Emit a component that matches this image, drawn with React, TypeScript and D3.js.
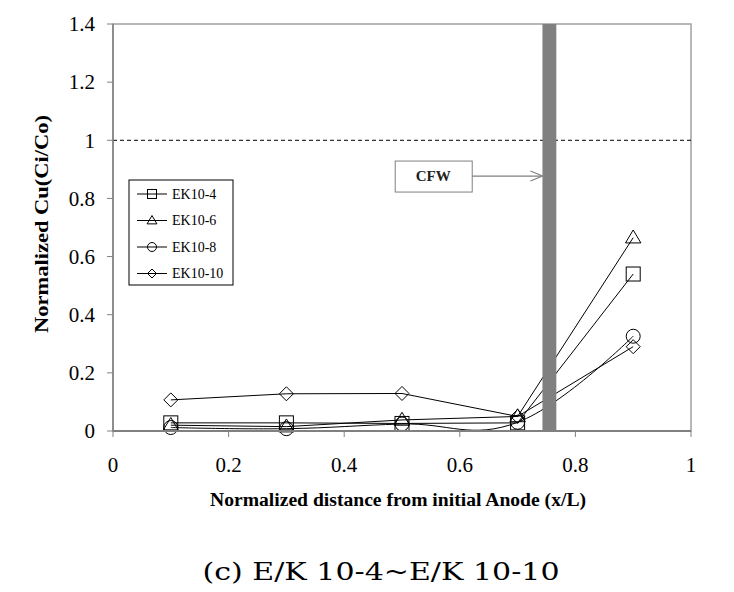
import React from "react";
import * as d3 from "d3";

const xValues = [0.1, 0.3, 0.5, 0.7, 0.9];
const seriesNames = ["EK10-4", "EK10-6", "EK10-8", "EK10-10"];
const ek10_4 = [0.028, 0.028, 0.026, 0.028, 0.54];
const ek10_6 = [0.02, 0.015, 0.038, 0.05, 0.665];
const ek10_8 = [0.012, 0.008, 0.024, 0.03, 0.326];
const ek10_10 = [0.107, 0.128, 0.129, 0.05, 0.29];
const markerTypes = ["square", "triangle", "circle", "diamond"];
const smoothFlags = [false, false, true, false];
const xTicks = [0, 0.2, 0.4, 0.6, 0.8, 1];
const yTicks = [0, 0.2, 0.4, 0.6, 0.8, 1, 1.2, 1.4];
const cfwPosition = 0.755;
const cfwHalfWidth = 0.012;
const referenceLevel = 1;

const W = 734;
const H = 592;
const x = d3.scaleLinear().domain([0, 1]).range([113, 691]);
const y = d3.scaleLinear().domain([0, 1.4]).range([431, 24]);

function Marker({ type, cx, cy, s }: { type: string; cx: number; cy: number; s: number }) {
  const h = s / 2;
  const common = { fill: "none", stroke: "#000", strokeWidth: 1 };
  if (type === "square") return <rect x={cx - h} y={cy - h} width={s} height={s} {...common} />;
  if (type === "circle") return <circle cx={cx} cy={cy} r={h} {...common} />;
  if (type === "triangle")
    return <path d={`M${cx},${cy - h * 1.1} L${cx + h * 1.1},${cy + h * 0.75} L${cx - h * 1.1},${cy + h * 0.75} Z`} {...common} />;
  return <path d={`M${cx},${cy - h} L${cx + h},${cy} L${cx},${cy + h} L${cx - h},${cy} Z`} {...common} />;
}

export default function App() {
  const allSeries = [ek10_4, ek10_6, ek10_8, ek10_10];
  const straight = d3.line<number>().x((_, i) => x(xValues[i])).y((d) => y(d));
  const smooth = d3
    .line<number>()
    .x((_, i) => x(xValues[i]))
    .y((d) => y(d))
    .curve(d3.curveCardinal.tension(-0.2));
  const serif = "'Liberation Serif', 'Times New Roman', serif";
  const gray = "#808080";
  const legendX = 129;
  const legendY = 180;
  const cfwBoxCx = x(0.554);
  const cfwBoxCy = y(0.877);
  return (
    <svg width={W} height={H} style={{ position: "absolute", left: 0, top: 0, background: "#fff" }}>
      <rect x={0} y={0} width={W} height={H} fill="#fff" />
      {/* plot border */}
      <rect x={x(0)} y={y(1.4)} width={x(1) - x(0)} height={y(0) - y(1.4)} fill="none" stroke="#a0a0a0" strokeWidth={1.5} />
      {/* dashed reference line */}
      <line x1={x(0)} x2={x(1)} y1={y(referenceLevel)} y2={y(referenceLevel)} stroke="#000" strokeWidth={1} strokeDasharray="4,3" />
      {/* series */}
      {allSeries.map((s, k) => (
        <g key={"s" + k}>
          <path d={(smoothFlags[k] ? smooth : straight)(s) || ""} fill="none" stroke="#000" strokeWidth={1} />
          {s.map((v, i) => (
            <Marker key={i} type={markerTypes[k]} cx={x(xValues[i])} cy={y(v)} s={14} />
          ))}
        </g>
      ))}
      {/* CFW bar */}
      <rect
        x={x(cfwPosition - cfwHalfWidth)}
        y={y(1.4)}
        width={x(cfwPosition + cfwHalfWidth) - x(cfwPosition - cfwHalfWidth)}
        height={y(0) - y(1.4)}
        fill={gray}
      />
      {/* axes */}
      <line x1={x(0)} x2={x(0)} y1={y(0)} y2={y(1.4)} stroke={gray} strokeWidth={1.5} />
      <line x1={x(0)} x2={x(1)} y1={y(0)} y2={y(0)} stroke={gray} strokeWidth={2} />
      {yTicks.map((t) => (
        <g key={"y" + t}>
          <line x1={x(0) - 6} x2={x(0)} y1={y(t)} y2={y(t)} stroke={gray} strokeWidth={1} />
          <text x={95} y={y(t)} dy="0.35em" textAnchor="end" fontFamily={serif} fontSize={21} fill="#000">
            {d3.format("~g")(t)}
          </text>
        </g>
      ))}
      {xTicks.map((t) => (
        <g key={"x" + t}>
          <line x1={x(t)} x2={x(t)} y1={y(0)} y2={y(0) + 6} stroke={gray} strokeWidth={1} />
          <text x={x(t)} y={472} textAnchor="middle" fontFamily={serif} fontSize={21} fill="#000">
            {d3.format("~g")(t)}
          </text>
        </g>
      ))}
      {/* CFW label */}
      <rect x={cfwBoxCx - 38} y={cfwBoxCy - 15} width={77} height={31} fill="#fff" stroke={gray} strokeWidth={1} />
      <text x={cfwBoxCx} y={cfwBoxCy} dy="0.35em" textAnchor="middle" fontFamily={serif} fontSize={15} fontWeight="bold" fill="#222">
        CFW
      </text>
      <line x1={cfwBoxCx + 39} x2={x(cfwPosition - cfwHalfWidth)} y1={cfwBoxCy} y2={cfwBoxCy} stroke={gray} strokeWidth={1.2} />
      <path
        d={`M${x(cfwPosition - cfwHalfWidth) - 12},${cfwBoxCy - 5} L${x(cfwPosition - cfwHalfWidth)},${cfwBoxCy} L${x(cfwPosition - cfwHalfWidth) - 12},${cfwBoxCy + 5}`}
        fill="none"
        stroke={gray}
        strokeWidth={1.2}
      />
      {/* legend */}
      <rect x={legendX} y={legendY} width={104} height={105} fill="#fff" stroke="#000" strokeWidth={1} />
      {seriesNames.map((n, k) => {
        const ly = legendY + 14 + k * 26.5;
        return (
          <g key={"l" + k}>
            <line x1={legendX + 8} x2={legendX + 38} y1={ly} y2={ly} stroke="#000" strokeWidth={1} />
            <Marker type={markerTypes[k]} cx={legendX + 23} cy={ly} s={9} />
            <text x={legendX + 43} y={ly} dy="0.35em" fontFamily={serif} fontSize={14} fill="#000">
              {n}
            </text>
          </g>
        );
      })}
      {/* axis titles */}
      <text
        transform={`translate(48,${224}) rotate(-90)`}
        textAnchor="middle"
        fontFamily={serif}
        fontSize={18}
        fontWeight="bold"
        textLength={218}
        lengthAdjust="spacingAndGlyphs"
        fill="#000"
      >
        Normalized Cu(Ci/Co)
      </text>
      <text
        x={398}
        y={506}
        textAnchor="middle"
        fontFamily={serif}
        fontSize={18}
        fontWeight="bold"
        textLength={376}
        lengthAdjust="spacingAndGlyphs"
        fill="#000"
      >
        Normalized distance from initial Anode (x/L)
      </text>
      <text
        x={381}
        y={580}
        textAnchor="middle"
        fontFamily="'DejaVu Serif', serif"
        fontSize={24}
        textLength={357}
        lengthAdjust="spacingAndGlyphs"
        fill="#000"
      >
        (c) E/K 10-4~E/K 10-10
      </text>
    </svg>
  );
}
